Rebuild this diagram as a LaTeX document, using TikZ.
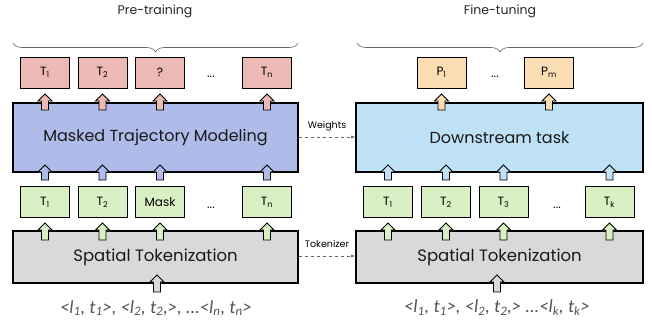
\documentclass[tikz,border=0pt]{standalone}
\usepackage{fontspec}
\setmainfont{Poppins}
\newfontfamily\seqfont{Carlito}
\usetikzlibrary{decorations.pathreplacing,arrows.meta}
\definecolor{pinkc}{HTML}{EDB9B5}
\definecolor{bluec}{HTML}{AFBCEA}
\definecolor{skyc}{HTML}{BEE1F5}
\definecolor{greenc}{HTML}{D9F0C4}
\definecolor{grayc}{HTML}{D9D9D9}
\definecolor{peachc}{HTML}{FADDB2}
\definecolor{txtgray}{HTML}{555555}
\newcommand\blkarrow[4]{% x, ytip, ybase, color
  \draw[fill=#4,line width=0.8pt,line join=miter]
    (#1-3.5,#3) -- (#1-3.5,#2+7) -- (#1-7,#2+7) -- (#1,#2) -- (#1+7,#2+7) -- (#1+3.5,#2+7) -- (#1+3.5,#3) -- cycle;}
\newcommand\sbs[1]{\textsubscript{#1}}
\begin{document}
\begin{tikzpicture}[x=1pt,y=-1pt,
  tok/.style={draw,line width=0.8pt,minimum width=49pt,minimum height=31pt,inner sep=0pt,font=\fontsize{12}{14}\selectfont},
  bigbox/.style={draw,line width=1.6pt,inner sep=0pt,font=\fontsize{16}{19}\selectfont,text=black!90},
  lbl/.style={font=\fontsize{12.5}{14}\selectfont,text=black!85},
  small/.style={font=\fontsize{9.5}{11}\selectfont},
  dots/.style={font=\fontsize{12}{14}\selectfont},
  dasharr/.style={dashed,draw=black!60,line width=0.6pt,-{Latex[length=4pt,width=3pt]}},
  brc/.style={decorate,decoration={brace,amplitude=9pt,raise=0pt},draw=black!60,line width=0.6pt},
  seq/.style={font=\fontsize{18.5}{20}\selectfont\seqfont\itshape,text=txtgray}]
\useasboundingbox (0,0) rectangle (652,327);

% headers and braces
\node[lbl] (pre) at (155,11) {Pre-training};
\node[lbl] (fine) at (500,11) {Fine-tuning};
\draw[brc] (298,43) -- (13,43);
\draw[brc] (643,43) -- (357,43);

% top output tokens
\node[tok,fill=pinkc] (o1) at (45,72.5) {T\sbs{1}};
\node[tok,fill=pinkc] (o2) at (102.5,72.5) {T\sbs{2}};
\node[tok,fill=pinkc] (o3) at (160,72.5) {?};
\node[dots] (od) at (211,77) {...};
\node[tok,fill=pinkc] (on) at (267,72.5) {T\sbs{n}};
\node[tok,fill=peachc] (p1) at (441.5,72.5) {P\sbs{1}};
\node[dots] (pd) at (495,77) {...};
\node[tok,fill=peachc] (pm) at (549,72.5) {P\sbs{m}};

% main boxes
\node[bigbox,fill=bluec,minimum width=285pt,minimum height=69pt] (mtm) at (155.5,137.5) {Masked Trajectory Modeling};
\node[bigbox,fill=skyc,minimum width=287pt,minimum height=69pt] (down) at (499.5,137.5) {Downstream task};

% middle tokens
\node[tok,fill=greenc] (a1) at (45,202) {T\sbs{1}};
\node[tok,fill=greenc] (a2) at (102.5,202) {T\sbs{2}};
\node[tok,fill=greenc] (a3) at (160,202) {Mask};
\node[dots] (ad) at (211,208) {...};
\node[tok,fill=greenc] (an) at (267,202) {T\sbs{n}};
\node[tok,fill=greenc] (b1) at (388,202) {T\sbs{1}};
\node[tok,fill=greenc] (b2) at (446,202) {T\sbs{2}};
\node[tok,fill=greenc] (b3) at (503.5,202) {T\sbs{3}};
\node[dots] (bd) at (557,208) {...};
\node[tok,fill=greenc] (bk) at (609.5,202) {T\sbs{k}};

% tokenization boxes
\node[bigbox,fill=grayc,minimum width=285pt,minimum height=52pt,font=\fontsize{16.5}{19}\selectfont] (st1) at (155.5,257) {Spatial Tokenization};
\node[bigbox,fill=grayc,minimum width=287pt,minimum height=52pt,font=\fontsize{16.5}{19}\selectfont] (st2) at (499.5,257) {Spatial Tokenization};

% input sequences
\node[seq] (s1) at (156,308) {<l\sbs{1}, t\sbs{1}>, <l\sbs{2}, t\sbs{2},>, ...<l\sbs{n}, t\sbs{n}>};
\node[seq] (s2) at (497,308) {<l\sbs{1}, t\sbs{1}>, <l\sbs{2}, t\sbs{2},> ...<l\sbs{k}, t\sbs{k}>};

% transfer arrows
\coordinate (w0) at (mtm.east |- 0,137);
\coordinate (w1) at (down.west |- 0,137);
\draw[dasharr] (w0) -- (w1);
\node[small] (wl) at (327,126) {Weights};
\coordinate (k0) at (st1.east |- 0,256);
\coordinate (k1) at (st2.west |- 0,256);
\draw[dasharr] (k0) -- (k1);
\node[small] (kl) at (327,244) {Tokenizer};

% block arrows: output
\foreach \x in {45,102.5,160,267} {\blkarrow{\x}{94}{110}{pinkc}}
\foreach \x in {441.5,549} {\blkarrow{\x}{94}{110}{peachc}}
% block arrows: into models
\foreach \x in {45,102.5,160,267} {\blkarrow{\x}{165}{180}{bluec}}
\foreach \x in {388,446,503.5,609.5} {\blkarrow{\x}{165}{180}{skyc}}
% block arrows: out of tokenizers
\foreach \x in {45,102.5,160,267,388,446,503.5,609.5} {\blkarrow{\x}{223}{240}{greenc}}
% block arrows: inputs
\foreach \x in {157,497} {\blkarrow{\x}{275}{292}{grayc}}
\end{tikzpicture}
\end{document}
